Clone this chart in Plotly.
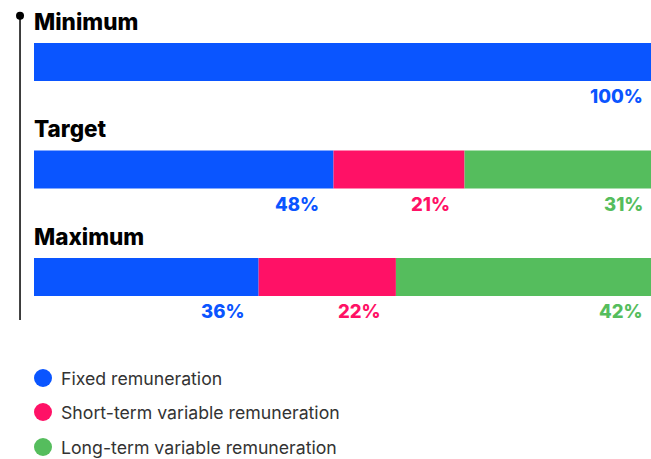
import plotly.graph_objects as go

# dados
cenarios = ['Minimum', 'Target', 'Maximum']
componentes = ['Fixed remuneration', 'Short-term variable remuneration', 'Long-term variable remuneration']
valores = {
    'Fixed remuneration': [100, 48, 36],
    'Short-term variable remuneration': [0, 21, 22],
    'Long-term variable remuneration': [0, 31, 42],
}

CORES = {
    'Fixed remuneration': '#0A55FF',
    'Short-term variable remuneration': '#FF1166',
    'Long-term variable remuneration': '#55BD5D',
}
FONTE = 'Inter, Roboto, sans-serif'
LARGURA, ALTURA = 651, 459

# escala horizontal (px por unidade) e limites do eixo
PX_UNIDADE = 6.24
X_MIN, X_MAX = -5.449, 98.88

fig = go.Figure()

pos_y = list(range(len(cenarios)))
acumulado = [0] * len(cenarios)
for comp in componentes:
    vals = valores[comp]
    fig.add_trace(go.Bar(
        x=vals,
        y=pos_y,
        base=acumulado,
        orientation='h',
        marker=dict(color=CORES[comp], line=dict(width=0)),
        width=0.355,
        showlegend=False,
        hoverinfo='skip'
    ))
    acumulado = [a + v for a, v in zip(acumulado, vals)]
    # rótulos de percentagem abaixo do fim de cada segmento
    for i, v in enumerate(vals):
        if v > 0:
            fim = acumulado[i]
            desloc = -12.5
            if fim > X_MAX:  # o fim da barra sai da janela
                desloc += (fim - X_MAX) * PX_UNIDADE
                fim = X_MAX
            fig.add_annotation(
                x=fim, y=pos_y[i], text=f'{v}%',
                xanchor='right', yanchor='middle', xshift=desloc, yshift=-34,
                showarrow=False,
                font=dict(family=FONTE, size=18.5, weight=800, color=CORES[comp])
            )

# títulos dos cenários
for i, nome in enumerate(cenarios):
    fig.add_annotation(
        x=0, y=pos_y[i], text=nome,
        xanchor='left', yanchor='middle', xshift=-2, yshift=41,
        showarrow=False,
        font=dict(family=FONTE, size=22.5, weight=800, color='#000000')
    )

# linha vertical com ponto no topo
fig.add_shape(type='line', x0=-2.24, x1=-2.24, y0=-0.43, y1=2.4,
              line=dict(color='#000000', width=1.5))
fig.add_shape(type='circle', xsizemode='pixel', ysizemode='pixel',
              xanchor=-2.24, yanchor=-0.43, x0=-4, x1=4, y0=-4, y1=4,
              fillcolor='#000000', line=dict(width=0))

# legenda desenhada à mão (círculo + texto)
legenda_y = [378, 412, 447]  # px a partir do topo
for comp, py in zip(componentes, legenda_y):
    yy = 1 - py / ALTURA
    fig.add_shape(type='circle', xref='paper', yref='paper',
                  xsizemode='pixel', ysizemode='pixel',
                  xanchor=43 / LARGURA, yanchor=yy, x0=-9, x1=9, y0=-9, y1=9,
                  fillcolor=CORES[comp], line=dict(width=0))
    fig.add_annotation(
        xref='paper', yref='paper', x=59 / LARGURA, y=yy, text=comp,
        xanchor='left', yanchor='middle', showarrow=False,
        font=dict(family=FONTE, size=17.7, color='#333333')
    )

fig.update_layout(
    width=LARGURA, height=ALTURA,
    margin=dict(l=0, r=0, t=0, b=0),
    plot_bgcolor='white',
    paper_bgcolor='white',
    barmode='overlay',
    xaxis=dict(range=[X_MIN, X_MAX], visible=False, fixedrange=True),
    yaxis=dict(range=[3.693, -0.577], visible=False, fixedrange=True),
    showlegend=False
)

# sem margem no body, para a figura ocupar a janela toda
fig.write_html('out.html', config={'displayModeBar': False},
               post_script="document.body.style.margin='0';")
